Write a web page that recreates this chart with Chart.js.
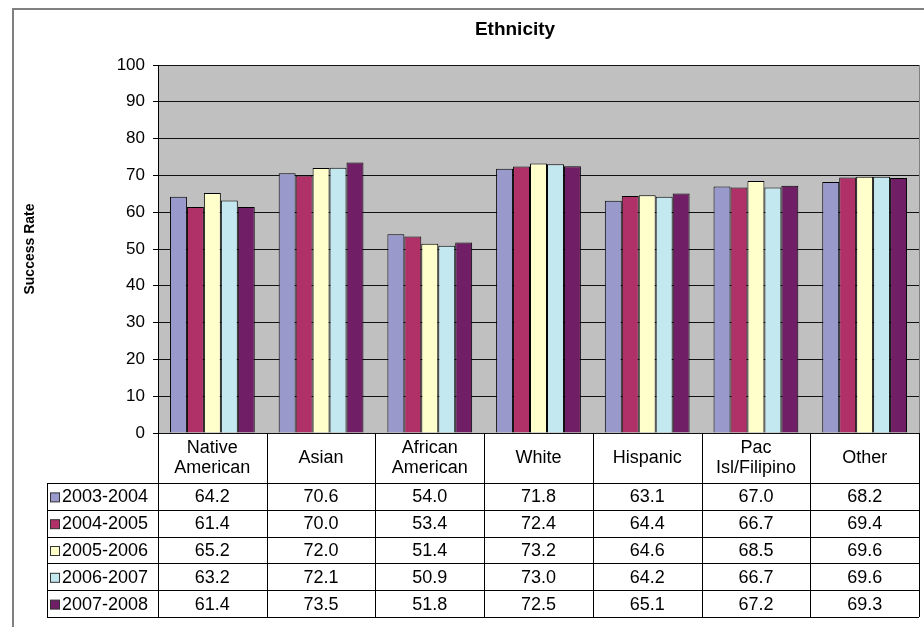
<!DOCTYPE html>
<html>
<head>
<meta charset="utf-8">
<script src="https://cdn.jsdelivr.net/npm/chart.js@4"></script>
<style>
  html, body { margin: 0; padding: 0; background: #fff; }
  #wrap { width: 924px; height: 627px; }
</style>
</head>
<body>
<div id="wrap"><canvas id="chart"></canvas></div>
<script>
const categories = [['Native', 'American'], ['Asian'], ['African', 'American'], ['White'], ['Hispanic'], ['Pac', 'Isl/Filipino'], ['Other']];
const years = ['2003-2004', '2004-2005', '2005-2006', '2006-2007', '2007-2008'];
const rate0304 = [64.2, 70.6, 54.0, 71.8, 63.1, 67.0, 68.2];
const rate0405 = [61.4, 70.0, 53.4, 72.4, 64.4, 66.7, 69.4];
const rate0506 = [65.2, 72.0, 51.4, 73.2, 64.6, 68.5, 69.6];
const rate0607 = [63.2, 72.1, 50.9, 73.0, 64.2, 66.7, 69.6];
const rate0708 = [61.4, 73.5, 51.8, 72.5, 65.1, 67.2, 69.3];
const colors = ['#9999CC', '#B03068', '#FFFFCC', '#C4E8F0', '#701E66'];

const FONT = "'Liberation Sans', Arial, sans-serif";

// grey plot background, frame, title and the data table under the bars
const tablePlugin = {
  id: 'dataTable',
  beforeDraw(chart) {
    const { ctx, chartArea: a } = chart;
    ctx.save();
    ctx.fillStyle = '#C0C0C0';
    ctx.fillRect(a.left, a.top, a.right - a.left, a.bottom - a.top);
    ctx.strokeStyle = '#808080';
    ctx.lineWidth = 2;
    ctx.strokeRect(13, 9, 940, 640);
    ctx.restore();
  },
  afterDraw(chart) {
    const { ctx, chartArea: a } = chart;
    const x = chart.scales.x;
    const colW = (a.right - a.left) / categories.length;
    const headBottom = a.bottom + 50;
    const rowH = 26.8;
    const tableBottom = headBottom + rowH * years.length;
    const legLeft = 47;

    ctx.save();
    ctx.strokeStyle = '#808080';
    ctx.lineWidth = 1;
    ctx.beginPath();
    ctx.moveTo(a.right + 0.5, a.top);
    ctx.lineTo(a.right + 0.5, a.bottom);
    ctx.stroke();

    // title
    ctx.fillStyle = '#000';
    ctx.font = 'bold 19px ' + FONT;
    ctx.textAlign = 'center';
    ctx.textBaseline = 'middle';
    ctx.fillText('Ethnicity', 515, 30);

    // table grid
    ctx.strokeStyle = '#000';
    ctx.lineWidth = 1;
    ctx.beginPath();
    for (let j = 0; j <= categories.length; j++) {
      const lx = Math.round(a.left + j * colW) + 0.5;
      ctx.moveTo(lx, a.bottom);
      ctx.lineTo(lx, Math.round(tableBottom));
    }
    ctx.moveTo(legLeft + 0.5, headBottom);
    ctx.lineTo(legLeft + 0.5, Math.round(tableBottom));
    for (let r = 0; r <= years.length; r++) {
      const ly = Math.round(headBottom + r * rowH) + 0.5;
      ctx.moveTo(legLeft, ly);
      ctx.lineTo(a.right, ly);
    }
    ctx.stroke();

    // header labels
    ctx.font = '18px ' + FONT;
    ctx.textAlign = 'center';
    const headMid = (a.bottom + headBottom) / 2;
    categories.forEach((lab, j) => {
      const cx = x.getPixelForValue(j);
      lab.forEach((line, k) => {
        ctx.fillText(line, cx, headMid + (k - (lab.length - 1) / 2) * 20);
      });
    });

    // rows: legend key + values
    chart.data.datasets.forEach((ds, r) => {
      const cy = headBottom + r * rowH + rowH / 2 + 1;
      ctx.fillStyle = ds.backgroundColor;
      ctx.fillRect(50.5, cy - 4.5, 9, 9);
      ctx.strokeStyle = '#333';
      ctx.strokeRect(50.5, cy - 4.5, 9, 9);
      ctx.fillStyle = '#000';
      ctx.textAlign = 'left';
      ctx.fillText(ds.label, 62, cy);
      ctx.textAlign = 'center';
      ds.data.forEach((v, j) => {
        ctx.fillText(v.toFixed(1), x.getPixelForValue(j), cy);
      });
    });
    ctx.restore();
  }
};

const seriesList = [rate0304, rate0405, rate0506, rate0607, rate0708];

new Chart(document.getElementById('chart'), {
  type: 'bar',
  data: {
    labels: categories,
    datasets: seriesList.map((d, i) => ({
      label: years[i],
      data: d,
      backgroundColor: colors[i],
      borderColor: '#000',
      borderWidth: 1,
      barPercentage: 1,
      categoryPercentage: 0.78
    }))
  },
  options: {
    responsive: true,
    maintainAspectRatio: false,
    animation: false,
    layout: { padding: { left: 13, right: 5, top: 65, bottom: 194 } },
    plugins: {
      legend: { display: false },
      title: { display: false },
      tooltip: { enabled: false }
    },
    scales: {
      x: { display: false },
      y: {
        min: 0,
        max: 100,
        afterFit(scale) { scale.width = 145; },
        ticks: {
          stepSize: 10,
          padding: 8,
          color: '#000',
          font: { family: FONT, size: 17 }
        },
        grid: { color: '#111', tickColor: '#000', tickLength: 5, lineWidth: 1 },
        border: { color: '#000' },
        title: {
          display: true,
          text: 'Success Rate',
          color: '#000',
          padding: { top: 9 },
          font: { family: FONT, size: 14, weight: 'bold' }
        }
      }
    }
  },
  plugins: [tablePlugin]
});
</script>
</body>
</html>
